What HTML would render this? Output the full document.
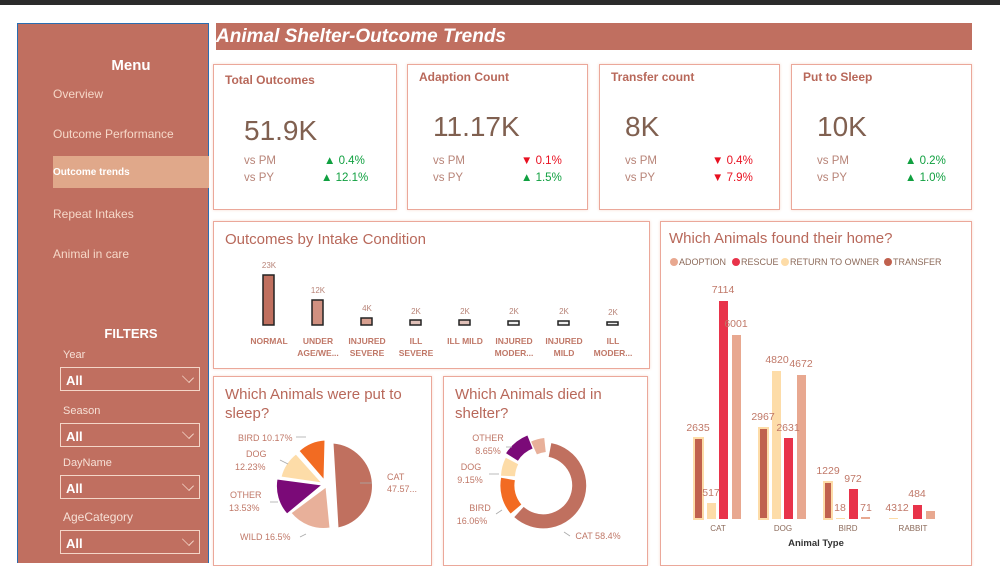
<!DOCTYPE html>
<html><head><meta charset="utf-8"><style>
*{margin:0;padding:0;box-sizing:border-box}
body{width:1000px;height:554px;overflow:hidden;background:#fff;font-family:"Liberation Sans",sans-serif;position:relative}
.abs{position:absolute}
.side{left:17px;top:23px;width:192px;height:540px;background:#C06F60;border:1px solid #2a6db0;border-bottom:none}
.mi{position:absolute;left:53px;color:#F6D8C8;font-size:12px}
.lbl{position:absolute;left:63px;color:#F6E0D6;font-size:11px}
.dd{position:absolute;left:60px;width:140px;height:24px;border:1px solid #F4D6C8;color:#fff;font-weight:bold;font-size:13px;padding:5px 0 0 5px}
.dd:after{content:"";position:absolute;right:6px;top:4px;width:9px;height:9px;border-right:1px solid #F4D6C8;border-bottom:1px solid #F4D6C8;transform:rotate(45deg) scaleY(.7)}
.card{position:absolute;border:1px solid #EBA89A;background:#fff;box-shadow:0 0 3px #F6DCD4}
.kt{position:absolute;left:11px;top:8px;font-size:12px;font-weight:bold;color:#B8685A}
.kv{position:absolute;left:30px;top:50px;font-size:28px;color:#806050}
.vs{position:absolute;left:30px;font-size:11.5px;color:#B88478}
.ch{position:absolute;font-size:11.5px}
.up{color:#10A040}.dn{color:#E81020}
.ct{position:absolute;left:11px;font-size:15px;color:#B8685A}
</style></head><body>
<div class="abs" style="left:0;top:0;width:1000px;height:5px;background:#2b2b2b"></div>
<div class="abs side"></div>
<div class="abs" style="left:17px;top:57px;width:228px;text-align:center;color:#fff;font-size:15px;font-weight:bold">Menu</div>
<div class="mi" style="top:87px">Overview</div>
<div class="mi" style="top:127px">Outcome Performance</div>
<div class="abs" style="left:53px;top:156px;width:156px;height:32px;background:#E0A88A"></div>
<div class="mi" style="top:167px;font-size:10px;font-weight:bold;color:#fff">Outcome trends</div>
<div class="mi" style="top:207px">Repeat Intakes</div>
<div class="mi" style="top:247px">Animal in care</div>
<div class="abs" style="left:17px;top:326px;width:228px;text-align:center;color:#fff;font-size:13px;font-weight:bold">FILTERS</div>
<div class="lbl" style="top:349px">Year</div><div class="dd" style="top:367px">All</div>
<div class="lbl" style="top:405px">Season</div><div class="dd" style="top:423px">All</div>
<div class="lbl" style="top:457px">DayName</div><div class="dd" style="top:475px">All</div>
<div class="lbl" style="top:510px;font-size:12px">AgeCategory</div><div class="dd" style="top:530px">All</div>

<div class="abs" style="left:216px;top:23px;width:756px;height:27px;background:#C06F60;color:#fff;font-style:italic;font-weight:bold;font-size:19px;padding:3px 0 0 0">Animal Shelter-Outcome Trends</div>

<div class="card" style="left:213px;top:64px;width:184px;height:146px"><div class="kt">Total Outcomes</div><div class="kv">51.9K</div>
<div class="vs" style="top:90px">vs PM</div><div class="vs" style="top:107px">vs PY</div>
<div class="ch up" style="left:110px;top:90px">▲ 0.4%</div><div class="ch up" style="left:107px;top:107px">▲ 12.1%</div></div>
<div class="card" style="left:407px;top:64px;width:181px;height:146px"><div class="kt" style="top:5px">Adaption Count</div><div class="kv" style="left:25px;top:46px">11.17K</div>
<div class="vs" style="left:25px;top:90px">vs PM</div><div class="vs" style="left:25px;top:107px">vs PY</div>
<div class="ch dn" style="left:113px;top:90px">▼ 0.1%</div><div class="ch up" style="left:113px;top:107px">▲ 1.5%</div></div>
<div class="card" style="left:599px;top:64px;width:181px;height:146px"><div class="kt" style="top:5px">Transfer count</div><div class="kv" style="left:25px;top:46px">8K</div>
<div class="vs" style="left:25px;top:90px">vs PM</div><div class="vs" style="left:25px;top:107px">vs PY</div>
<div class="ch dn" style="left:112px;top:90px">▼ 0.4%</div><div class="ch dn" style="left:112px;top:107px">▼ 7.9%</div></div>
<div class="card" style="left:791px;top:64px;width:181px;height:146px"><div class="kt" style="top:5px">Put to Sleep</div><div class="kv" style="left:25px;top:46px">10K</div>
<div class="vs" style="left:25px;top:90px">vs PM</div><div class="vs" style="left:25px;top:107px">vs PY</div>
<div class="ch up" style="left:113px;top:90px">▲ 0.2%</div><div class="ch up" style="left:113px;top:107px">▲ 1.0%</div></div>

<div class="card" style="left:213px;top:221px;width:437px;height:148px"><div class="ct" style="top:9px">Outcomes by Intake Condition</div></div>
<div class="card" style="left:213px;top:376px;width:219px;height:190px"><div class="ct" style="top:8px;line-height:19px">Which Animals were put to<br>sleep?</div></div>
<div class="card" style="left:443px;top:376px;width:205px;height:190px"><div class="ct" style="top:8px;line-height:19px">Which Animals died in<br>shelter?</div></div>
<div class="card" style="left:660px;top:221px;width:312px;height:345px"><div class="ct" style="top:8px;left:8px">Which Animals found their home?</div></div>

<svg class="abs" style="left:0;top:0" width="1000" height="554" font-family="Liberation Sans, sans-serif">
<g stroke="#222" stroke-width="1.5" font-size="8" fill="#B88478" text-anchor="middle">
<rect x="263" y="275" width="11" height="50" fill="#C0705F"/>
<rect x="312" y="300" width="11" height="25" fill="#D09080"/>
<rect x="361" y="318" width="11" height="7" fill="#D8A090"/>
<rect x="410" y="320" width="11" height="5" fill="#E0C0B8"/>
<rect x="459" y="320" width="11" height="5" fill="#E0C0B8"/>
<rect x="508" y="321" width="11" height="4" fill="#EEE"/>
<rect x="558" y="321" width="11" height="4" fill="#EEE"/>
<rect x="607" y="322" width="11" height="3" fill="#EEE"/>
<g stroke="none"><text x="269" y="268">23K</text><text x="318" y="293">12K</text><text x="367" y="311">4K</text><text x="416" y="314">2K</text><text x="465" y="314">2K</text><text x="514" y="314">2K</text><text x="564" y="314">2K</text><text x="613" y="315">2K</text></g>
</g>
<g font-size="8.5" fill="#C07868" text-anchor="middle" font-weight="bold">
<text x="269" y="344">NORMAL</text>
<text x="318" y="344">UNDER</text><text x="318" y="356">AGE/WE...</text>
<text x="367" y="344">INJURED</text><text x="367" y="356">SEVERE</text>
<text x="416" y="344">ILL</text><text x="416" y="356">SEVERE</text>
<text x="465" y="344">ILL MILD</text>
<text x="514" y="344">INJURED</text><text x="514" y="356">MODER...</text>
<text x="564" y="344">INJURED</text><text x="564" y="356">MILD</text>
<text x="613" y="344">ILL</text><text x="613" y="356">MODER...</text>
</g>
<g font-size="9" fill="#8C6A5A">
<circle cx="674" cy="262" r="4" fill="#E8A890"/><text x="679" y="265">ADOPTION</text>
<circle cx="736" cy="262" r="4" fill="#E8334A"/><text x="741" y="265">RESCUE</text>
<circle cx="785" cy="262" r="4" fill="#FDDCA8"/><text x="790" y="265">RETURN TO OWNER</text>
<circle cx="888" cy="262" r="4" fill="#C0614E"/><text x="893" y="265">TRANSFER</text>
</g>
<g>
<rect x="694" y="438" width="9" height="81" fill="#C0614E" stroke="#FDDCA8" stroke-width="2"/>
<rect x="707" y="503" width="9" height="16" fill="#FDDCA8"/>
<rect x="719" y="301" width="9" height="218" fill="#E8334A"/>
<rect x="732" y="335" width="9" height="184" fill="#E8A890"/>
<rect x="759" y="428" width="9" height="91" fill="#C0614E" stroke="#FDDCA8" stroke-width="2"/>
<rect x="772" y="371" width="9" height="148" fill="#FDDCA8"/>
<rect x="784" y="438" width="9" height="81" fill="#E8334A"/>
<rect x="797" y="375" width="9" height="144" fill="#E8A890"/>
<rect x="824" y="482" width="8" height="37" fill="#C0614E" stroke="#FDDCA8" stroke-width="2"/>
<rect x="836" y="518" width="9" height="1" fill="#FDDCA8"/>
<rect x="849" y="489" width="9" height="30" fill="#E8334A"/>
<rect x="861" y="517" width="9" height="2" fill="#E8A890"/>
<rect x="889" y="518" width="9" height="1" fill="#FDDCA8"/>
<rect x="913" y="505" width="9" height="14" fill="#E8334A"/>
<rect x="926" y="511" width="9" height="8" fill="#E8A890"/>
</g>
<g font-size="10.5" fill="#C07868" text-anchor="middle">
<text x="698" y="431">2635</text><text x="711" y="496">517</text><text x="723" y="293">7114</text><text x="736" y="327">6001</text>
<text x="763" y="420">2967</text><text x="777" y="363">4820</text><text x="788" y="431">2631</text><text x="801" y="367">4672</text>
<text x="828" y="474">1229</text><text x="840" y="511">18</text><text x="853" y="482">972</text><text x="866" y="511">71</text>
<text x="897" y="511">4312</text><text x="917" y="497">484</text>
</g>
<g font-size="8" fill="#8C6A5A" text-anchor="middle"><text x="718" y="531">CAT</text><text x="783" y="531">DOG</text><text x="848" y="531">BIRD</text><text x="913" y="531">RABBIT</text></g>
<text x="816" y="546" font-size="9.5" font-weight="bold" fill="#333" text-anchor="middle">Animal Type</text>
<g stroke="#fff" stroke-width="1">
<path d="M333,443 A43,43 0 0 1 338,528 Z" fill="#C0705F"/>
<path d="M326,487 L330,528 A42,42 0 0 1 291,513 Z" fill="#E8B09A"/>
<path d="M322,485 L287,514 A42,42 0 0 1 277,479 Z" fill="#7B0A78"/>
<path d="M322,483 L281,477 A42,42 0 0 1 296,454 Z" fill="#FDDCA8"/>
<path d="M324,480 L299,451 A42,42 0 0 1 325,440 Z" fill="#F26B22"/>
</g>
<g font-size="9" fill="#C07868">
<text x="238" y="441">BIRD 10.17%</text><text x="246" y="457">DOG</text><text x="235" y="470">12.23%</text>
<text x="230" y="498">OTHER</text><text x="229" y="511">13.53%</text><text x="240" y="540">WILD 16.5%</text>
<text x="387" y="480">CAT</text><text x="387" y="492">47.57...</text>
</g>
<g stroke="#aaa" fill="none" stroke-width=".8"><path d="M296,437 h10"/><path d="M280,460 l8,4"/><path d="M270,502 h8"/><path d="M300,537 l6,-3"/><path d="M372,483 h-12"/></g>
<g fill="none" stroke-width="14">
<path d="M550,450 A36,36 0 1 1 519,512" stroke="#C0705F"/>
<path d="M516,509 A36,36 0 0 1 508,479" stroke="#F26B22"/>
<path d="M508,476 A36,36 0 0 1 512,461" stroke="#FDDCA8"/>
<path d="M512,457 A38,38 0 0 1 530,442" stroke="#7B0A78"/>
<path d="M534,448 A36,36 0 0 1 545,445" stroke="#E8B09A"/>
</g>
<g font-size="9" fill="#C07868" text-anchor="middle">
<text x="488" y="441">OTHER</text><text x="488" y="454">8.65%</text><text x="471" y="470">DOG</text><text x="470" y="483">9.15%</text>
<text x="480" y="511">BIRD</text><text x="472" y="524">16.06%</text><text x="598" y="539">CAT 58.4%</text>
</g>
<g stroke="#aaa" fill="none" stroke-width=".8"><path d="M506,447 h6"/><path d="M489,474 h10"/><path d="M496,514 l6,-4"/><path d="M570,536 l-6,-4"/></g>
</svg>
</body></html>
